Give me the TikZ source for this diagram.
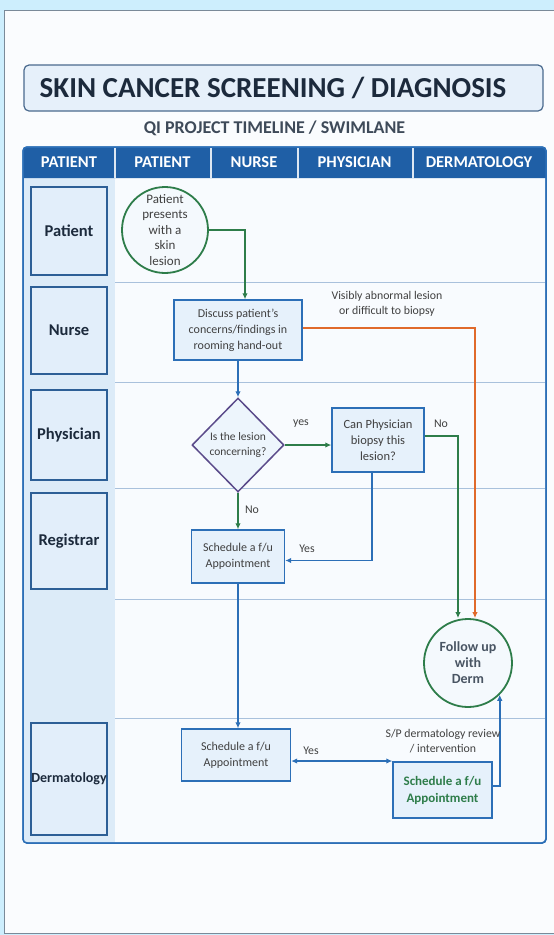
\documentclass[tikz,border=0pt]{standalone}
\usepackage{fontspec}
\setmainfont{Carlito}
\usetikzlibrary{shapes.geometric,arrows.meta,calc}
\definecolor{bgblue}{HTML}{CDEEFD}
\definecolor{pagebg}{HTML}{FAFCFE}
\definecolor{pageedge}{HTML}{7A8A99}
\definecolor{lineblue}{HTML}{2C6FB7}
\definecolor{hdrblue}{HTML}{1F5FA6}
\definecolor{fgreen}{HTML}{2E7D4A}
\definecolor{forange}{HTML}{E06A2B}
\definecolor{fpurple}{HTML}{5A4A8A}
\definecolor{txtgray}{HTML}{404040}
\definecolor{navy}{HTML}{1C2A3C}
\definecolor{lanefill}{HTML}{DCEBF8}
\definecolor{laneboxfill}{HTML}{E2EEFA}
\definecolor{laneedge}{HTML}{2D5F96}
\definecolor{boxfill}{HTML}{E6F1FB}
\definecolor{lanerule}{HTML}{A9C1DC}
\definecolor{mainfill}{HTML}{F8FBFE}
\definecolor{titlefill}{HTML}{E6F0FA}
\definecolor{titledraw}{HTML}{4A6A8E}
\tikzset{
  flowbox/.style={draw=lineblue, line width=1.4pt, fill=boxfill, align=center,
    font=\fontsize{12}{16}\selectfont, text=txtgray, inner sep=2pt},
  flowcirc/.style={circle, draw=fgreen, line width=1.8pt, fill=boxfill!45!white, align=center,
    text=txtgray, inner sep=0pt},
  lanebox/.style={draw=laneedge, line width=1.4pt, fill=laneboxfill, text=navy,
    font=\bfseries\fontsize{16.5}{19}\selectfont, minimum width=76pt, inner sep=0pt},
  hdrtext/.style={text=white, font=\bfseries\fontsize{16.5}{19}\selectfont},
  lbl/.style={text=txtgray, font=\fontsize{11.8}{14.5}\selectfont, align=center},
  arr/.style={-{Latex[length=6pt,width=5.5pt]}, line width=1.6pt},
}
\begin{document}
\begin{tikzpicture}[x=1pt,y=-1pt]
\useasboundingbox (0,0) rectangle (554,935);
% backgrounds
\fill[bgblue] (0,0) rectangle (554,935);
\filldraw[fill=pagebg, draw=pageedge, line width=0.6pt] (4.5,10) rectangle (556,933);
% title
\node[draw=titledraw, line width=1.2pt, fill=titlefill, rounded corners=5pt,
  minimum width=519pt, minimum height=46pt, inner sep=0pt] (title) at (283.5,88) {};
\node[text=navy, font=\bfseries\fontsize{29}{33}\selectfont] (titletext) at (273,88) {SKIN CANCER SCREENING / DIAGNOSIS};
\node[text=navy!85!white, font=\bfseries\fontsize{18}{21}\selectfont] (subtitle) at (274.5,128) {QI PROJECT TIMELINE / SWIMLANE};
% table
\filldraw[fill=mainfill, draw=lineblue, line width=1.5pt, rounded corners=4pt] (23,147) rectangle (546,843);
\fill[lanefill] (24,178) rectangle (115,842);
\fill[hdrblue] (23,178) [rounded corners=4pt] -- (23,147) -- (546,147) [sharp corners] -- (546,178) -- cycle;
\foreach \x in {115,211,298,413} \draw[white!85!hdrblue, line width=1.2pt] (\x,148) -- (\x,178);
\foreach \y in {282,382,488,599,718} \draw[lanerule, line width=1pt] (115,\y) -- (545,\y);
\draw[lineblue, line width=1.5pt, rounded corners=4pt] (23,147) rectangle (546,843);
% header
\node[hdrtext] (h1) at (69,162) {PATIENT};
\node[hdrtext] (h2) at (162.5,162) {PATIENT};
\node[hdrtext] (h3) at (254,162) {NURSE};
\node[hdrtext] (h4) at (354.5,162) {PHYSICIAN};
\node[hdrtext] (h5) at (479,162) {DERMATOLOGY};
% lane labels
\node[lanebox, minimum height=88pt] (lp) at (69,231) {Patient};
\node[lanebox, minimum height=87pt] (ln) at (69,330.5) {Nurse};
\node[lanebox, minimum height=90pt] (lph) at (69,435) {Physician};
\node[lanebox, minimum height=96pt] (lr) at (69,541) {Registrar};
\node[lanebox, minimum height=112pt, font=\bfseries\fontsize{14}{17}\selectfont] (ld) at (69,779) {Dermatology};
% nodes
\node[flowcirc, minimum size=86pt, font=\fontsize{13}{15.5}\selectfont] (circ) at (165,230)
  {Patient\\presents\\with a\\skin\\lesion};
\node[flowbox, minimum width=128pt, minimum height=60pt] (disc) at (238,330)
  {Discuss patient's\\concerns/findings in\\rooming hand-out};
\node[diamond, draw=fpurple, line width=1.5pt, fill=boxfill!70!white, align=center, text=txtgray,
  font=\fontsize{11.5}{15}\selectfont, inner sep=0pt, minimum width=92pt, minimum height=94pt] (dia) at (238,445)
  {Is the lesion\\concerning?};
\node[flowbox, minimum width=92pt, minimum height=64pt, font=\fontsize{12.5}{16}\selectfont] (can) at (378,440)
  {Can Physician\\biopsy this\\lesion?};
\node[flowcirc, minimum size=88pt, font=\bfseries\fontsize{14}{16}\selectfont, text=navy!80!white] (fu) at (468,663)
  {Follow up\\with\\Derm};
\node[flowbox, minimum width=93pt, minimum height=53pt] (reg) at (238,556.5)
  {Schedule a f/u\\Appointment};
\node[flowbox, minimum width=109pt, minimum height=52pt] (derm) at (236,755)
  {Schedule a f/u\\Appointment};
\node[flowbox, minimum width=99pt, minimum height=56pt, text=fgreen, font=\bfseries\fontsize{13}{17}\selectfont] (gbox) at (442.5,790)
  {Schedule a f/u\\Appointment};
% connectors
\draw[arr, fgreen] (circ.east) -| ([xshift=7pt]disc.north);
\draw[arr, lineblue] (disc.south) -- (dia.north);
\draw[arr, forange] ([yshift=2pt]disc.east) -| ([xshift=7pt]fu.north);
\draw[arr, fgreen] (dia.east) -- (dia.east -| can.west);
\draw[arr, fgreen] ([yshift=4pt]can.east) -| ([xshift=-10pt]fu.north);
\draw[arr, fgreen] (dia.south) -- (reg.north);
\draw[arr, lineblue] ([xshift=-6pt]can.south) |- ([yshift=-4pt]reg.east);
\draw[arr, lineblue] (reg.south) -- (reg.south |- derm.north);
\draw[{Latex[length=6pt,width=5.5pt]}-{Latex[length=6pt,width=5.5pt]}, line width=1.6pt, lineblue]
  ([yshift=-6pt]derm.east) -- ([yshift=-6pt]derm.east -| gbox.west);
\draw[arr, lineblue] ([yshift=4pt]gbox.east) -| (fu.-45);
% labels
\node[lbl] (l1) at (387,304) {Visibly abnormal lesion\\or difficult to biopsy};
\node[lbl] (l2) at (301,424) {yes};
\node[lbl] (l3) at (441,424) {No};
\node[lbl] (l4) at (252,510) {No};
\node[lbl] (l5) at (307,549) {Yes};
\node[lbl] (l6) at (311,751) {Yes};
\node[lbl] (l7) at (443,741) {S/P dermatology review\\/ intervention};
\end{tikzpicture}
\end{document}
